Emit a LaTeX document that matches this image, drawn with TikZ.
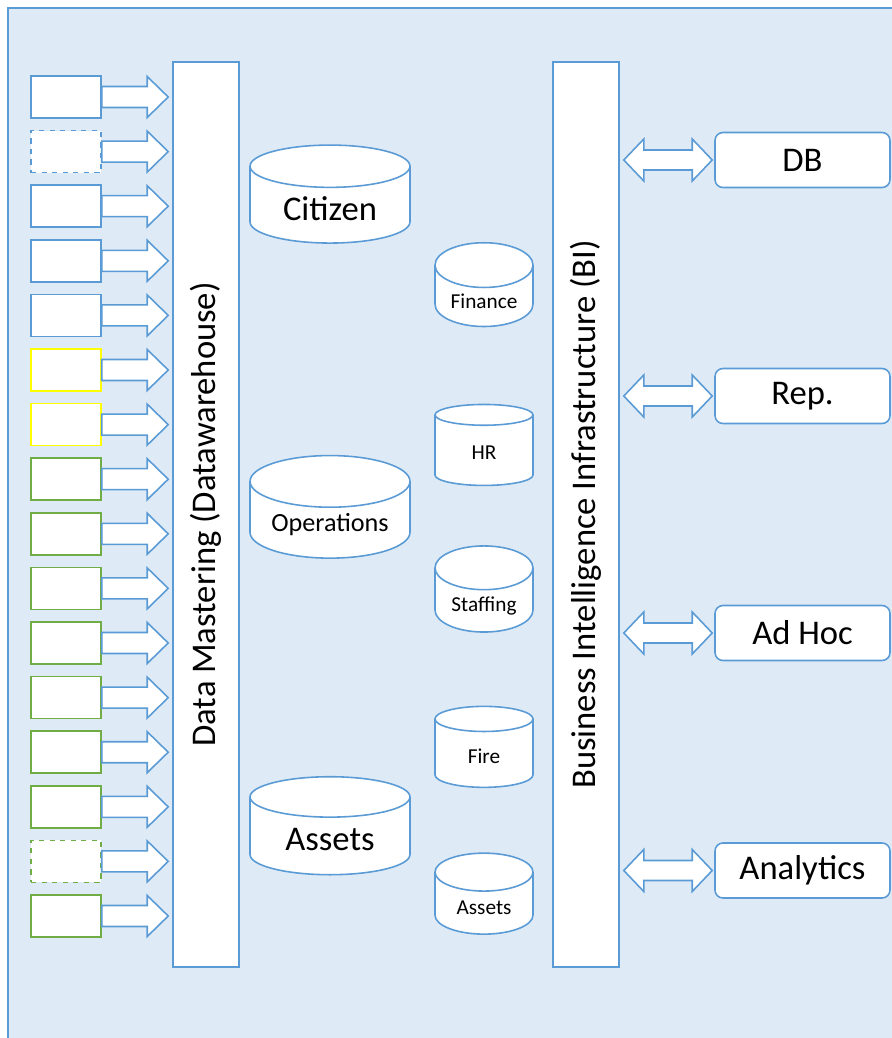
\documentclass[tikz,border=0pt]{standalone}
\usepackage{fontspec}
\setmainfont{Carlito}
\usetikzlibrary{shapes.geometric,calc}

\definecolor{lineblue}{HTML}{5B9BD5}
\definecolor{paleblue}{HTML}{DEEBF7}
\definecolor{srcgreen}{HTML}{70AD47}
\definecolor{srcyellow}{HTML}{FFFF00}

\tikzset{
  src/.style={draw=lineblue, fill=white, line width=0.9pt, minimum width=1.4cm, minimum height=0.84cm},
  bar/.style={draw=lineblue, fill=white, line width=0.9pt, minimum width=1.32cm, minimum height=18.1cm},
  bigdb/.style={cylinder, shape border rotate=90, draw=lineblue, fill=white, line width=0.9pt,
    minimum width=3.2cm, minimum height=1.96cm, aspect=0.4},
  smalldb/.style={cylinder, shape border rotate=90, draw=lineblue, fill=white, line width=0.9pt,
    minimum width=1.96cm, minimum height=1.62cm, aspect=0.57, font=\fontsize{12.1}{14}\selectfont},
  tool/.style={draw=lineblue, fill=white, line width=0.9pt, rounded corners=4.5pt,
    minimum width=3.5cm, minimum height=1.1cm, font=\fontsize{19.7}{23}\selectfont},
  blockarr/.style={draw=lineblue, fill=white, line width=0.9pt, line join=miter},
}

\begin{document}
\begin{tikzpicture}[x=0.02cm, y=-0.02cm]

    \useasboundingbox (0,0) rectangle (892,1038);
    \clip (0,0) rectangle (892,1038);
    \draw[draw=lineblue, fill=paleblue, line width=1.1pt] (8,8) rectangle (910,1060);

    % sources
    \foreach \i/\c/\d in {1/lineblue/solid, 2/lineblue/dashed, 3/lineblue/solid, 4/lineblue/solid,
        5/lineblue/solid, 6/srcyellow/solid, 7/srcyellow/solid, 8/srcgreen/solid, 9/srcgreen/solid,
        10/srcgreen/solid, 11/srcgreen/solid, 12/srcgreen/solid, 13/srcgreen/solid, 14/srcgreen/solid,
        15/srcgreen/dashed, 16/srcgreen/solid}
        \node[src, draw=\c, \d] (s\i) at (66, {97+54.6*(\i-1)}) {};

    \node[bar] (dw) at (206,514.5) {};
    \node[rotate=90, font=\fontsize{19.7}{23}\selectfont] (dwlabel) at (dw.center) {Data Mastering (Datawarehouse)};

    \node[bar] (bi) at (586,514.5) {};
    \node[rotate=90, font=\fontsize{19.7}{23}\selectfont] (bilabel) at (bi.center) {Business Intelligence Infrastructure (BI)};

    \foreach \i in {1,...,16}
        \draw[blockarr] ($(s\i.east)+(0,-10.5)$) -- ($(dw.west |- s\i.east)+(-25,-10.5)$) -- ++(0,-10)
            -- ($(dw.west |- s\i.east)+(-4,0)$) -- ++(-21,20.5) -- ++(0,-10) -- ($(s\i.east)+(0,10.5)$) -- cycle;

    % data stores
    \node[bigdb, font=\fontsize{19.7}{23}\selectfont] (citizen) at (330,209) {Citizen};
    \node[bigdb, font=\fontsize{14.9}{17}\selectfont] (ops) at (330,525) {Operations};
    \node[bigdb, font=\fontsize{19.7}{23}\selectfont] (assets) at (330,840) {Assets};

    \node[smalldb] (finance) at (484,301.5) {Finance};
    \node[smalldb] (hr) at (484,453) {HR};
    \node[smalldb] (staffing) at (484,605.5) {Staffing};
    \node[smalldb] (fire) at (484,756.5) {Fire};
    \node[smalldb] (assets2) at (484,908) {Assets};

    % front ends
    \node[tool] (db) at (802.5,160) {DB};
    \node[tool] (rep) at (802.5,396) {Rep.};
    \node[tool] (adhoc) at (802.5,633) {Ad Hoc};
    \node[tool] (analytics) at (802.5,870.5) {Analytics};

    \foreach \n in {db,rep,adhoc,analytics}
        \draw[blockarr] ($(bi.east |- \n.west)+(4,0)$) -- ++(20,-21) -- ++(0,11) -- ($(\n.west)+(-22,-10)$)
            -- ++(0,-11) -- ++(20,21) -- ++(-20,21) -- ++(0,-11) -- ($(bi.east |- \n.west)+(24,10)$)
            -- ++(0,11) -- cycle;

\end{tikzpicture}
\end{document}
